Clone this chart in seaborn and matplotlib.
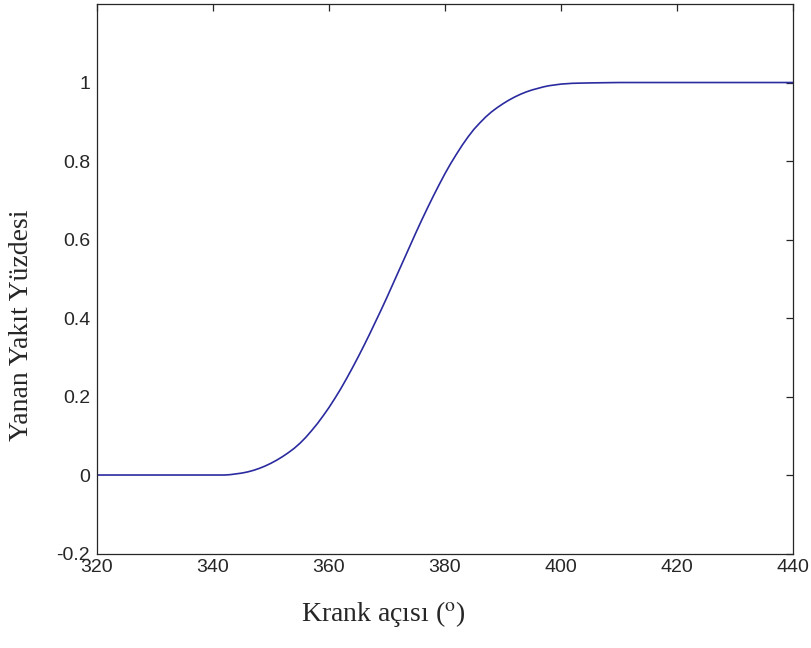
import matplotlib
matplotlib.use("Agg")
import matplotlib.pyplot as plt
import seaborn as sns
import pandas as pd

# Data
crank_angle = [320, 330, 340, 342, 343, 344, 345, 346, 347, 348, 349, 350, 351,
               352, 353, 354, 355, 356, 357, 358, 359, 360, 361, 362, 363, 364,
               365, 366, 367, 368, 369, 370, 371, 372, 373, 374, 375, 376, 377,
               378, 379, 380, 381, 382, 383, 384, 385, 386, 387, 388, 389, 390,
               391, 392, 393, 394, 395, 396, 397, 398, 399, 400, 402, 405, 410,
               420, 430, 440]
burned_fraction = [0, 0, 0, 0, 0.001, 0.003, 0.005, 0.008, 0.012, 0.017, 0.023,
                   0.030, 0.038, 0.047, 0.057, 0.068, 0.081, 0.096, 0.113, 0.131,
                   0.151, 0.172, 0.195, 0.219, 0.245, 0.272, 0.300, 0.329, 0.359,
                   0.390, 0.421, 0.453, 0.486, 0.519, 0.552, 0.585, 0.618, 0.650,
                   0.681, 0.711, 0.740, 0.768, 0.794, 0.818, 0.841, 0.862, 0.881,
                   0.897, 0.912, 0.925, 0.936, 0.946, 0.955, 0.963, 0.970, 0.976,
                   0.981, 0.985, 0.989, 0.992, 0.994, 0.996, 0.998, 0.999, 1.0,
                   1.0, 1.0, 1.0]
x_ticks = [320, 340, 360, 380, 400, 420, 440]
y_ticks = [-0.2, 0, 0.2, 0.4, 0.6, 0.8, 1]
y_tick_labels = ["-0.2", "0", "0.2", "0.4", "0.6", "0.8", "1"]

sns.set_style("white")
plt.rcParams["font.family"] = ["Liberation Sans", "DejaVu Sans"]
plt.rcParams["mathtext.fontset"] = "stix"

df = pd.DataFrame({"theta": crank_angle, "xb": burned_fraction})

fig = plt.figure(figsize=(8.11, 6.48), dpi=100)
ax = fig.add_axes([0.1196, 0.1458, 0.8582, 0.848])

sns.lineplot(data=df, x="theta", y="xb", ax=ax, color="#2B2BA0", linewidth=1.2)

ax.set_xlim(320, 440)
ax.set_ylim(-0.2, 1.2)
ax.set_xticks(x_ticks)
ax.set_xticklabels([str(t) for t in x_ticks])
ax.set_yticks(y_ticks)
ax.set_yticklabels(y_tick_labels)

for s in ax.spines.values():
    s.set_visible(True)
    s.set_color("#262626")
    s.set_linewidth(0.9)

ax.tick_params(axis="both", which="major", direction="in", length=5, width=0.9,
               color="#262626", top=True, right=True, labelsize=14,
               labelcolor="#262626")
ax.tick_params(axis="x", pad=4)
ax.tick_params(axis="y", pad=5)

ax.set_xlabel("Krank açısı ($^{\\mathrm{o}}$)", fontsize=20,
              family=["Liberation Serif", "DejaVu Serif"])
ax.xaxis.set_label_coords(0.412, -0.11)
ax.xaxis.label.set_va("center")

ax.set_ylabel("Yanan Yakıt Yüzdesi", fontsize=20,
              family=["Liberation Serif", "DejaVu Serif"])
ax.yaxis.set_label_coords(-0.108, 0.416)
ax.yaxis.label.set_va("center")

fig.savefig("out.png", dpi=100, facecolor="white")
